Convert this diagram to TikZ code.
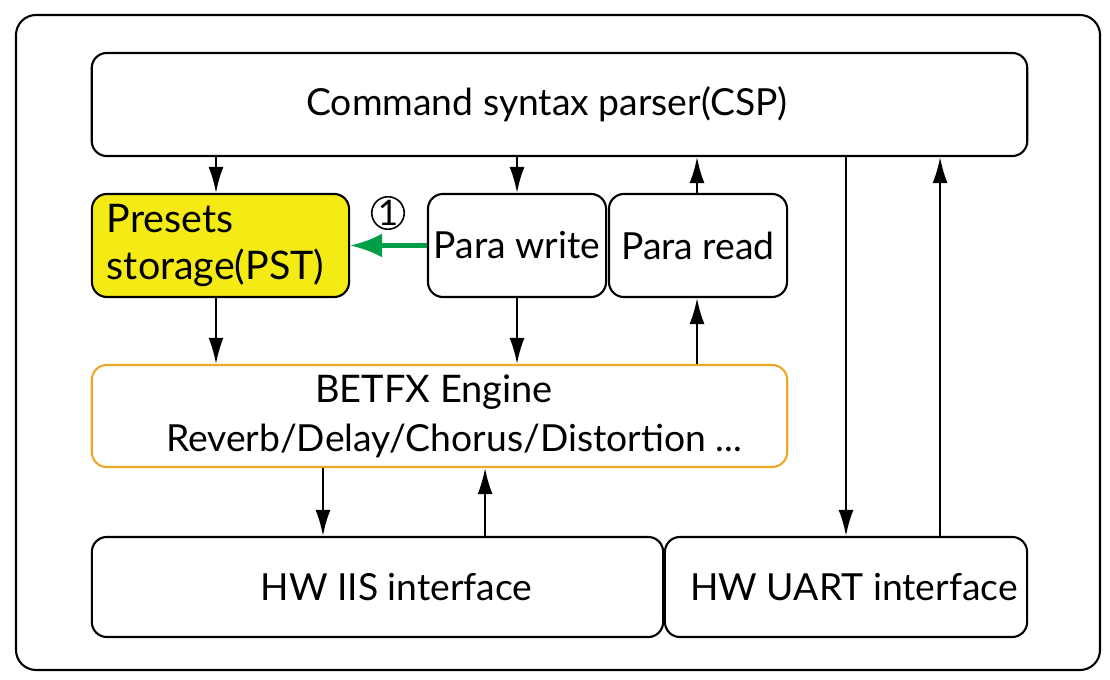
\documentclass[tikz,border=0pt]{standalone}
\usepackage{fontspec}
\setmainfont{Lato}
\usetikzlibrary{arrows.meta}
\definecolor{presetyellow}{RGB}{245,235,20}
\definecolor{engineorange}{RGB}{238,168,40}
\definecolor{writegreen}{RGB}{0,158,72}

\begin{document}
\begin{tikzpicture}[
  x=0.01cm, y=-0.01cm,
  font=\fontsize{10.6}{14}\selectfont,
  block/.style={draw=black, rounded corners=0.15cm, line width=0.6pt,
                inner sep=0pt, align=center},
  presetblock/.style={block, fill=presetyellow, align=left,
                      text width=2.27cm, inner xsep=0.15cm},
  engineblock/.style={block, draw=engineorange},
  numbermark/.style={circle, draw=black, line width=0.45pt, inner sep=0pt,
                     minimum size=0.3cm, font=\fontsize{10}{10}\selectfont},
  flow/.style={-{Latex[length=2.6mm, width=1.5mm]}, line width=0.6pt},
  writeflow/.style={-{Latex[length=3.2mm, width=2.4mm]}, line width=1.2pt,
                    draw=writegreen}
]
  \useasboundingbox (0,0) rectangle (1110,680);
  \draw[line width=0.6pt, rounded corners=0.2cm] (16,15) rectangle (1100,670);

  \node[block, minimum width=9.35cm, minimum height=1.03cm] (csp) at (559.5,104.5)
        {\hspace*{-0.25cm}Command syntax parser(CSP)};
  \node[presetblock, minimum width=2.57cm, minimum height=1.03cm] (pst) at (220.5,245.5)
        {\fontsize{11.2}{14}\selectfont Presets\\[-0.5pt]storage(PST)};
  \node[block, minimum width=1.78cm, minimum height=1.03cm] (pwrite) at (517,245.5)
        {Para write};
  \node[block, minimum width=1.78cm, minimum height=1.03cm] (pread) at (698,245.5)
        {Para read};
  \node[engineblock, minimum width=6.95cm, minimum height=1.02cm] (engine) at (439.5,416)
        {\hspace*{-0.11cm}{\fontsize{10.8}{14}\selectfont BETFX Engine}\\[0pt]\hspace*{0.29cm}Reverb/Delay/Chorus/Distortion ...};
  \node[block, minimum width=5.71cm, minimum height=1.0cm] (iis) at (377.5,587)
        {\hspace*{0.38cm}HW IIS interface};
  \node[block, minimum width=3.62cm, minimum height=1.0cm] (uart) at (846,587)
        {\hspace*{0.16cm}HW UART interface};

  \node[numbermark] (mark) at (388,213) {1};

  % command paths
  \draw[flow] ([xshift=-0.045cm]pst.north |- csp.south) -- ([xshift=-0.045cm]pst.north);
  \draw[flow] (pwrite.north |- csp.south) -- (pwrite.north);
  \draw[flow] ([xshift=-0.01cm]pread.north) -- ([xshift=-0.01cm]pread.north |- csp.south);
  \draw[flow] (uart.north |- csp.south) -- (uart.north);
  \draw[flow] ([xshift=0.94cm]uart.north) -- ([xshift=0.94cm]uart.north |- csp.south);

  % engine paths
  \draw[flow] ([xshift=-0.045cm]pst.south) -- ([xshift=-0.045cm]pst.south |- engine.north);
  \draw[flow] (pwrite.south) -- (pwrite.south |- engine.north);
  \draw[flow] ([xshift=-0.01cm]pread.south |- engine.north) -- ([xshift=-0.01cm]pread.south);
  \draw[flow] ([xshift=-0.545cm]iis.north |- engine.south) -- ([xshift=-0.545cm]iis.north);
  \draw[flow] ([xshift=1.075cm]iis.north) -- ([xshift=1.075cm]iis.north |- engine.south);

  \draw[writeflow] (pwrite.west) -- (pst.east);
\end{tikzpicture}
\end{document}
